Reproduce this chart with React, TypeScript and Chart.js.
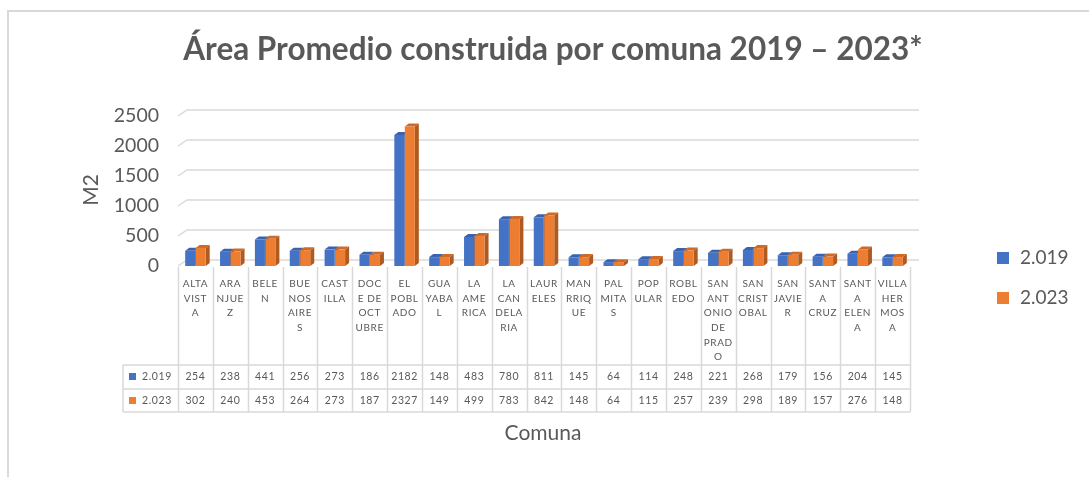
import React, { useEffect, useRef } from 'react';
import { Chart, registerables } from 'chart.js';

Chart.register(...registerables);

const chartTitle = 'Área Promedio construida por comuna 2019 – 2023*';
const yAxisTitle = 'M2';
const xAxisTitle = 'Comuna';

const categories = [
  'ALTA VISTA', 'ARANJUEZ', 'BELEN', 'BUENOS AIRES', 'CASTILLA', 'DOCE DE OCTUBRE',
  'EL POBLADO', 'GUAYABAL', 'LA AMERICA', 'LA CANDELARIA', 'LAURELES', 'MANRRIQUE',
  'PALMITAS', 'POPULAR', 'ROBLEDO', 'SAN ANTONIO DE PRADO', 'SAN CRISTOBAL',
  'SAN JAVIER', 'SANTA CRUZ', 'SANTA ELENA', 'VILLA HERMOSA',
];

const categoryLines = [
  ['ALTA', 'VIST', 'A'], ['ARA', 'NJUE', 'Z'], ['BELE', 'N'], ['BUE', 'NOS', 'AIRE', 'S'],
  ['CAST', 'ILLA'], ['DOC', 'E DE', 'OCT', 'UBRE'], ['EL', 'POBL', 'ADO'], ['GUA', 'YABA', 'L'],
  ['LA', 'AME', 'RICA'], ['LA', 'CAN', 'DELA', 'RIA'], ['LAUR', 'ELES'], ['MAN', 'RRIQ', 'UE'],
  ['PAL', 'MITA', 'S'], ['POP', 'ULAR'], ['ROBL', 'EDO'], ['SAN', 'ANT', 'ONIO', 'DE', 'PRAD', 'O'],
  ['SAN', 'CRIST', 'OBAL'], ['SAN', 'JAVIE', 'R'], ['SANT', 'A', 'CRUZ'], ['SANT', 'A', 'ELEN', 'A'],
  ['VILLA', 'HER', 'MOS', 'A'],
];

const seriesLabels = ['2.019', '2.023'];
const values2019 = [254, 238, 441, 256, 273, 186, 2182, 148, 483, 780, 811, 145, 64, 114, 248, 221, 268, 179, 156, 204, 145];
const values2023 = [302, 240, 453, 264, 273, 187, 2327, 149, 499, 783, 842, 148, 64, 115, 257, 239, 298, 189, 157, 276, 148];

const yMin = 0;
const yMax = 2500;
const yStep = 500;

const frontColors = ['#4472C4', '#ED7D31'];
const topColors = ['#3A63AF', '#CF6A26'];
const sideColors = ['#2F5597', '#AE5A20'];
const gridColor = '#D9D9D9';
const textColor = '#595959';

const W = 1089;
const H = 477;
const DX = 4;
const DY = 3;
const GDX = 9;
const GDY = 6;

const decorPlugin = {
  id: 'decor',
  beforeDraw(chart: any) {
    const ctx = chart.ctx;
    const area = chart.chartArea;
    const y = chart.scales.y;
    ctx.save();
    ctx.fillStyle = '#FFFFFF';
    ctx.fillRect(0, 0, W, H);
    ctx.strokeStyle = gridColor;
    ctx.lineWidth = 2;
    ctx.beginPath();
    ctx.moveTo(8, H);
    ctx.lineTo(8, 11);
    ctx.lineTo(W, 11);
    ctx.stroke();
    ctx.lineWidth = 1.5;
    for (let v = yMin; v <= yMax; v += yStep) {
      const py = y.getPixelForValue(v);
      ctx.beginPath();
      ctx.moveTo(area.left, py);
      ctx.lineTo(area.left + GDX, py - GDY);
      ctx.lineTo(area.right + GDX, py - GDY);
      ctx.stroke();
    }
    ctx.restore();
  },
  beforeDatasetsDraw(chart: any) {
    const ctx = chart.ctx;
    ctx.save();
    chart.data.datasets.forEach((ds: any, di: number) => {
      const meta = chart.getDatasetMeta(di);
      meta.data.forEach((el: any) => {
        const p = el.getProps(['x', 'y', 'base', 'width'], true);
        const l = p.x - p.width / 2;
        const r = p.x + p.width / 2;
        ctx.fillStyle = topColors[di];
        ctx.beginPath();
        ctx.moveTo(l, p.y);
        ctx.lineTo(l + DX, p.y - DY);
        ctx.lineTo(r + DX, p.y - DY);
        ctx.lineTo(r, p.y);
        ctx.closePath();
        ctx.fill();
        ctx.fillStyle = sideColors[di];
        ctx.beginPath();
        ctx.moveTo(r, p.y);
        ctx.lineTo(r + DX, p.y - DY);
        ctx.lineTo(r + DX, p.base - DY);
        ctx.lineTo(r, p.base);
        ctx.closePath();
        ctx.fill();
      });
    });
    ctx.restore();
  },
  afterDraw(chart: any) {
    const ctx = chart.ctx;
    const area = chart.chartArea;
    const xs = chart.scales.x;
    const n = categories.length;
    const colW = (xs.right - xs.left) / n;
    ctx.save();
    ctx.fillStyle = textColor;
    ctx.textAlign = 'center';
    ctx.textBaseline = 'middle';
    ctx.font = 'bold 31.5px Lato';
    ctx.fillText(chartTitle, 553, 50);
    ctx.save();
    ctx.translate(91, 190);
    ctx.rotate(-Math.PI / 2);
    ctx.font = '21px Lato';
    ctx.fillText(yAxisTitle, 0, 0);
    ctx.restore();
    ctx.font = '21px Lato';
    ctx.fillText(xAxisTitle, 543, 433);

    const tTop = area.bottom + 1;
    const rowTop = 365;
    const rowMid = 389;
    const rowBot = 412;
    const labelLeft = 123;
    ctx.strokeStyle = gridColor;
    ctx.lineWidth = 1.5;
    ctx.beginPath();
    for (let i = 0; i <= n; i++) {
      const bx = Math.round(xs.left + i * colW) + 0.5;
      ctx.moveTo(bx, tTop);
      ctx.lineTo(bx, rowBot);
    }
    [rowTop, rowMid, rowBot].forEach((yy) => {
      ctx.moveTo(labelLeft, yy);
      ctx.lineTo(xs.right, yy);
    });
    ctx.moveTo(labelLeft, rowTop);
    ctx.lineTo(labelLeft, rowBot);
    ctx.stroke();

    ctx.fillStyle = textColor;
    ctx.font = '10px Lato';
    (ctx as any).letterSpacing = '0.6px';
    categoryLines.forEach((lines, i) => {
      const cx = xs.getPixelForValue(i);
      lines.forEach((t, k) => {
        ctx.fillText(t, cx, 284 + k * 14.6);
      });
    });
    ctx.font = '10.5px Lato';
    const rows = [values2019, values2023];
    const rowY = [377, 401];
    rows.forEach((vals, r) => {
      vals.forEach((v, i) => {
        ctx.fillText(String(v), xs.getPixelForValue(i), rowY[r]);
      });
      ctx.fillStyle = frontColors[r];
      ctx.fillRect(129, rowY[r] - 4, 7, 7);
      ctx.fillStyle = textColor;
      ctx.textAlign = 'left';
      ctx.fillText(seriesLabels[r], 142, rowY[r]);
      ctx.textAlign = 'center';
    });
    (ctx as any).letterSpacing = '0px';

    const legY = [258, 298];
    ctx.font = '19px Lato';
    ctx.textAlign = 'left';
    seriesLabels.forEach((s, r) => {
      ctx.fillStyle = frontColors[r];
      ctx.fillRect(997, legY[r] - 6, 12, 12);
      ctx.fillStyle = textColor;
      ctx.fillText(s, 1020, legY[r]);
    });
    ctx.restore();
  },
};

export default function App() {
  const canvasRef = useRef<HTMLCanvasElement | null>(null);

  useEffect(() => {
    const canvas = canvasRef.current;
    if (!canvas) return;
    const chart = new Chart(canvas, {
      type: 'bar',
      data: {
        labels: categories,
        datasets: [
          { label: seriesLabels[0], data: values2019, backgroundColor: frontColors[0], borderWidth: 0 },
          { label: seriesLabels[1], data: values2023, backgroundColor: frontColors[1], borderWidth: 0 },
        ],
      },
      options: {
        responsive: false,
        animation: false,
        devicePixelRatio: 1,
        layout: { padding: { left: 0, right: W - 910, top: 116, bottom: H - 266 } },
        plugins: {
          legend: { display: false },
          title: { display: false },
          tooltip: { enabled: false },
        },
        datasets: {
          bar: { categoryPercentage: 0.6, barPercentage: 0.96 },
        },
        scales: {
          x: { display: false, offset: true },
          y: {
            min: yMin,
            max: yMax,
            ticks: {
              stepSize: yStep,
              color: textColor,
              font: { family: 'Lato', size: 19.5 },
              padding: 19,
              callback: (value: any) => String(value),
            },
            grid: { display: false, drawTicks: false },
            border: { display: false },
            afterFit: (scale: any) => { scale.width = 178; },
          },
        },
      },
      plugins: [decorPlugin],
    });
    return () => chart.destroy();
  }, []);

  return (
    <div style={{ position: 'fixed', left: 0, top: 0, width: W, height: H, background: '#fff' }}>
      <canvas ref={canvasRef} width={W} height={H} style={{ display: 'block', width: W, height: H }} />
    </div>
  );
}
